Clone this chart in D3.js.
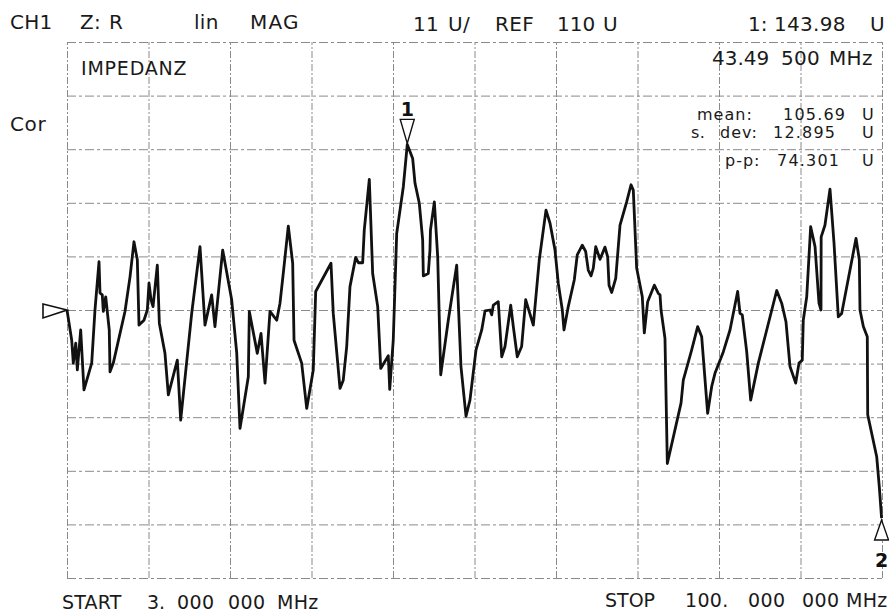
<!DOCTYPE html>
<html>
<head>
<meta charset="utf-8">
<script src="https://cdn.jsdelivr.net/npm/d3@7"></script>
<style>
	body { margin: 0; background: #fff; }
	svg { display: block; font-family: "DejaVu Sans", sans-serif; }
</style>
</head>
<body>
<div id="chart"></div>
<script>
// trace: frequency (MHz) and impedance magnitude (U)
var freq = [3.0, 3.56, 3.75, 4.04, 4.23, 4.63, 5.02, 5.94, 6.33, 6.81,
	6.93, 7.20, 7.32, 7.61, 8.03, 8.12, 8.51, 9.90, 10.50, 10.97,
	11.37, 11.57, 12.16, 12.56, 12.76, 13.0, 13.24, 13.75, 13.99, 14.66,
	15.06, 16.13, 16.53, 17.84, 18.83, 19.42, 20.22, 20.61, 21.53, 22.60,
	23.20, 23.59, 24.58, 24.70, 25.65, 26.09, 26.57, 27.16, 27.96, 28.35,
	28.74, 29.34, 29.86, 30.02, 30.93, 31.53, 32.31, 32.60, 34.42, 34.69,
	35.49, 35.88, 36.29, 36.68, 37.36, 37.67, 38.19, 38.38, 38.98, 39.38,
	39.98, 40.34, 41.24, 41.41, 41.83, 42.24, 43.03, 43.50, 44.14, 44.42,
	44.93, 45.33, 45.41, 46.00, 46.20, 46.26, 46.72, 47.12, 47.48, 48.38,
	49.38, 49.89, 50.49, 50.96, 51.68, 52.36, 52.75, 53.34, 53.55, 53.74,
	54.33, 54.74, 55.13, 55.81, 56.12, 56.59, 57.11, 57.59, 58.50, 59.21,
	60.01, 60.49, 61.08, 61.47, 61.95, 62.15, 62.66, 63.38, 63.73, 64.33,
	64.73, 65.04, 65.37, 65.64, 65.93, 66.44, 67.03, 67.35, 67.51, 67.83,
	68.31, 68.82, 69.61, 70.13, 70.40, 70.80, 71.47, 71.71, 72.11, 72.90,
	73.38, 73.58, 73.70, 74.17, 74.45, 76.08, 76.35, 77.35, 78.06, 78.54,
	79.25, 79.73, 80.12, 81.11, 81.91, 82.82, 83.10, 83.37, 83.90, 84.37,
	85.28, 87.47, 88.06, 88.57, 89.05, 89.73, 90.12, 90.51, 90.63, 91.04,
	91.51, 92.03, 92.50, 92.74, 92.76, 93.21, 93.81, 94.29, 94.80, 95.20,
	96.91, 97.30, 97.38, 97.78, 98.25, 98.30, 99.37, 99.68, 99.95];

var imp = [110.0, 103.8, 99.1, 103.2, 97.7, 105.9, 93.6, 99.1, 110.0, 119.9,
	113.5, 113.1, 109.7, 112.7, 105.9, 97.3, 99.1, 109.7, 116.8, 124.0,
	120.3, 106.9, 107.9, 110.0, 115.5, 112.1, 110.7, 119.2, 107.3, 101.1,
	92.6, 99.7, 87.4, 109.3, 123.0, 106.9, 113.1, 106.6, 122.3, 112.1,
	101.2, 85.7, 96.3, 109.7, 101.1, 105.2, 95.0, 109.7, 107.9, 111.4,
	117.5, 127.2, 119.6, 103.8, 99.1, 89.8, 97.7, 113.8, 119.6, 109.3,
	93.9, 95.6, 102.5, 114.8, 120.8, 119.7, 119.7, 126.4, 136.8, 117.5,
	110.7, 98.0, 100.6, 93.7, 103.8, 125.7, 135.3, 143.98, 141.1, 136.0,
	131.9, 124.4, 117.0, 117.5, 122.3, 126.4, 132.2, 120.9, 96.7, 107.9,
	119.2, 98.4, 88.2, 91.5, 101.8, 105.9, 109.8, 110.0, 109.0, 111.0,
	111.7, 100.4, 102.5, 111.0, 106.6, 100.4, 102.5, 112.1, 106.9, 120.3,
	130.5, 127.8, 122.3, 115.5, 110.0, 105.9, 110.7, 116.2, 121.3, 123.3,
	122.0, 118.2, 117.0, 118.6, 123.0, 120.4, 122.9, 120.9, 115.1, 113.6,
	116.5, 127.4, 132.2, 135.7, 134.6, 118.6, 112.7, 105.3, 111.7, 115.1,
	113.4, 113.1, 110.0, 104.2, 78.5, 90.9, 95.6, 101.8, 106.6, 104.5,
	88.8, 94.3, 97.0, 101.4, 105.9, 113.8, 109.3, 109.0, 101.4, 91.5,
	99.1, 114.0, 111.4, 107.6, 98.4, 95.0, 99.1, 99.7, 107.9, 112.7,
	127.1, 123.0, 111.4, 110.0, 125.0, 127.4, 134.8, 123.7, 108.6, 109.3,
	124.7, 120.3, 110.0, 106.6, 104.5, 88.5, 79.9, 73.7, 67.3];

var startMHz = 3, stopMHz = 100;
var refLevel = 110, perDiv = 11;
var xDivs = d3.range(11).map(i => startMHz + i * (stopMHz - startMHz) / 10);
var yDivs = d3.range(11).map(i => refLevel - 5 * perDiv + i * perDiv);
var markers = [
	{id: '1', f: 43.495, v: 143.98, dir: 'down'},
	{id: '2', f: 99.95, v: 67.3, dir: 'up'}
];

// screen texts: [text, x, y, size, letter spacing]
var labels = [
	['CH1', 10, 29, 20, 0.3], ['Z:', 80, 29, 20, 0.3], ['R', 109, 29, 20, 0.3],
	['lin', 194, 29, 20, 0.3], ['MAG', 250, 29, 20, 1.2],
	['11', 413, 31, 20, 0.3], ['U/', 448, 31, 20, 0.3], ['REF', 495, 31, 20, 0.3],
	['110', 557, 31, 20, 0], ['U', 603, 31, 20, 0],
	['1:', 748, 31, 20, 0], ['143.98', 774, 31, 20, 0.3], ['U', 870, 31, 20, 0],
	['43.49', 712, 65, 20, 0], ['500', 781, 65, 20, 0.3], ['MHz', 829, 65, 20, 0.3],
	['mean:', 697, 120, 16, 1.0], ['105.69', 783, 120, 16, 1.2], ['U', 862, 120, 16, 0],
	['s.', 691, 138, 16, 0.5], ['dev:', 720, 138, 16, 1.0], ['12.895', 773, 138, 16, 1.2], ['U', 862, 138, 16, 0],
	['p-p:', 725, 166, 16, 1.0], ['74.301', 777, 166, 16, 1.2], ['U', 862, 166, 16, 0],
	['IMPEDANZ', 81, 75, 19, 0.8], ['Cor', 10, 131, 20, 0.6],
	['START', 62, 609, 19, 0.2], ['3.', 147, 609, 19, 0], ['000', 177, 609, 19, 0.4],
	['000', 228, 609, 19, 0.4], ['MHz', 277, 609, 19, 0.3],
	['STOP', 605, 607, 19, 0], ['100.', 685, 607, 19, 0.3], ['000', 748, 607, 19, 0.4],
	['000', 802, 607, 19, 0.4], ['MHz', 846, 607, 19, 0.3]
];

var width = 889, height = 615;
var plot = {left: 67, right: 882, top: 42, bottom: 578};
var gridColor = '#8a8a8a';
var traceColor = '#111';

var x = d3.scaleLinear().domain([startMHz, stopMHz]).range([plot.left, plot.right]);
var y = d3.scaleLinear().domain([d3.min(yDivs), d3.max(yDivs)]).range([plot.bottom, plot.top]);

var svg = d3.select('#chart').append('svg')
	.attr('width', width).attr('height', height);

// graticule
svg.append('g')
	.attr('transform', 'translate(0,' + plot.bottom + ')')
	.call(d3.axisBottom(x).tickValues(xDivs).tickSize(-(plot.bottom - plot.top)).tickFormat(''))
	.call(g => g.select('.domain').remove())
	.selectAll('line')
	.attr('stroke', gridColor)
	.attr('stroke-dasharray', '7 2 2 2');

svg.append('g')
	.attr('transform', 'translate(' + plot.left + ',0)')
	.call(d3.axisLeft(y).tickValues(yDivs).tickSize(-(plot.right - plot.left)).tickFormat(''))
	.call(g => g.select('.domain').remove())
	.selectAll('line')
	.attr('stroke', gridColor)
	.attr('stroke-dasharray', '9 3 3 3');

// texts
svg.append('g').selectAll('text')
	.data(labels)
	.enter().append('text')
	.attr('x', d => d[1])
	.attr('y', d => d[2])
	.attr('font-size', d => d[3])
	.attr('letter-spacing', d => d[4])
	.attr('fill', '#1a1a1a')
	.text(d => d[0]);

// trace
var trace = freq.map((f, i) => ({f: f, v: imp[i]}));
var line = d3.line()
	.x(d => x(d.f))
	.y(d => y(d.v));

svg.append('path')
	.datum(trace)
	.attr('fill', 'none')
	.attr('stroke', traceColor)
	.attr('stroke-width', 2.8)
	.attr('stroke-linejoin', 'round')
	.attr('d', line);

// reference level marker on the left edge
var ry = y(refLevel);
svg.append('path')
	.attr('d', 'M' + [plot.left, ry] + ' L' + [plot.left - 24, ry - 6] + ' L' + [plot.left - 24, ry + 8] + 'Z')
	.attr('fill', '#fff')
	.attr('stroke', traceColor)
	.attr('stroke-width', 1.6);

// trace markers
var mk = svg.append('g').selectAll('g')
	.data(markers)
	.enter().append('g')
	.attr('transform', d => 'translate(' + [x(d.f), y(d.v)] + ')');

mk.append('path')
	.attr('d', d => d.dir === 'down'
		? 'M0,-1 L-7,-25 L7,-25 Z'
		: 'M0,2 L-7,22 L7,22 Z')
	.attr('fill', '#fff')
	.attr('stroke', traceColor)
	.attr('stroke-width', 1.4);

mk.append('text')
	.attr('text-anchor', 'middle')
	.attr('y', d => d.dir === 'down' ? -28 : 49)
	.attr('font-size', 19)
	.attr('font-weight', 'bold')
	.attr('fill', traceColor)
	.text(d => d.id);
</script>
</body>
</html>
